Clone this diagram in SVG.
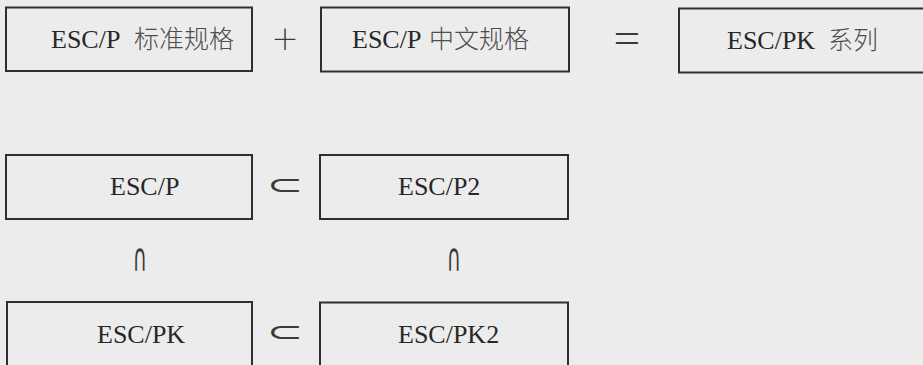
<svg xmlns="http://www.w3.org/2000/svg" width="923" height="365" viewBox="0 0 923 365">
  <style>
    .box { fill: none; stroke: #2f2f2f; stroke-width: 2; }
    .lbl { font-family: "Liberation Serif", "Noto Sans CJK SC", serif; font-size: 26px; fill: #272727; }
    .cjk { font-family: "Noto Sans CJK SC", sans-serif; font-size: 25px; font-weight: 300; fill: #4d4d4d; }
    .op  { fill: #3a3a3a; text-anchor: middle; }
    .wide-op { font-family: "Noto Sans CJK SC", sans-serif; font-weight: 300; }
    .math-op { font-family: "DejaVu Sans", sans-serif; }
  </style>

  <!-- paper -->
  <rect x="0" y="0" width="923" height="365" fill="#ececec"/>

  <!-- top row: standard + chinese = ESC/PK -->
  <g id="escp-standard">
    <rect class="box" x="6" y="7.5" width="246" height="63.5"/>
    <text class="lbl" x="51" y="48">ESC/P <tspan class="cjk" x="134">标准规格</tspan></text>
  </g>
  <g id="escp-chinese">
    <rect class="box" x="321" y="7.5" width="248" height="64"/>
    <text class="lbl" x="352" y="48">ESC/P <tspan class="cjk" x="429">中文规格</tspan></text>
  </g>
  <g id="escpk-series">
    <rect class="box" x="679" y="8.5" width="260" height="64"/>
    <text class="lbl" x="727" y="49">ESC/PK <tspan class="cjk" x="828">系列</tspan></text>
  </g>

  <!-- inclusion grid -->
  <g id="escp">
    <rect class="box" x="6" y="155" width="246" height="64"/>
    <text class="lbl" x="110" y="195">ESC/P</text>
  </g>
  <g id="escp2">
    <rect class="box" x="320" y="155" width="248" height="64"/>
    <text class="lbl" x="398" y="195">ESC/P2</text>
  </g>
  <g id="escpk">
    <rect class="box" x="7" y="302" width="245" height="66"/>
    <text class="lbl" x="97" y="343">ESC/PK</text>
  </g>
  <g id="escpk2">
    <rect class="box" x="320" y="302.5" width="248" height="66"/>
    <text class="lbl" x="398" y="343">ESC/PK2</text>
  </g>

  <!-- relation symbols between the boxes -->
  <g id="relations">
    <text class="op wide-op" x="285" y="49.5" font-size="28">＋</text>
    <text class="op wide-op" font-size="30" transform="translate(627,39) scale(1,1.35)" y="11.4">＝</text>
    <text class="op math-op" font-size="28" transform="translate(285,184) scale(1.55,1)" y="10">⊂</text>
    <text class="op math-op" font-size="28" transform="translate(285,331) scale(1.55,1)" y="10">⊂</text>
    <text class="op math-op" font-size="26" transform="translate(140,271) scale(0.75,1.5)">∩</text>
    <text class="op math-op" font-size="26" transform="translate(454,271) scale(0.75,1.5)">∩</text>
  </g>
</svg>
